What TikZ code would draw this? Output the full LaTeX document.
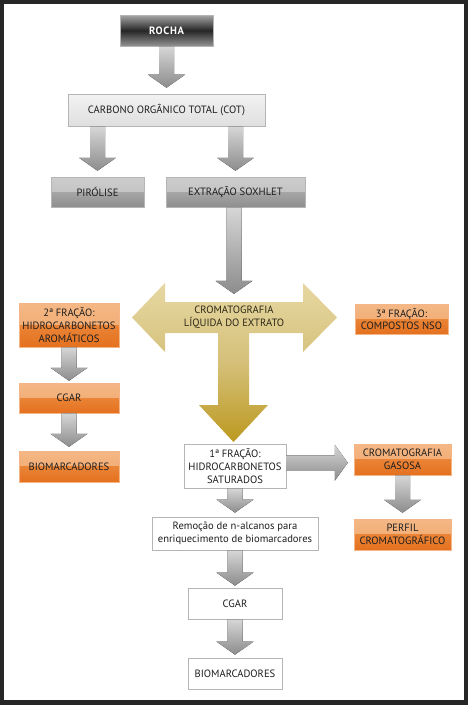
\documentclass[tikz,border=0pt]{standalone}
\usepackage{fontspec}
\setmainfont{PT Sans}
\usetikzlibrary{calc}
\definecolor{framec}{HTML}{262626}
\definecolor{txtc}{HTML}{1E1E1E}
\definecolor{orT1}{HTML}{F4B886}
\definecolor{orT2}{HTML}{F1A468}
\definecolor{orB1}{HTML}{EA8436}
\definecolor{orB2}{HTML}{E4711F}
\definecolor{gyT1}{HTML}{CDCDCD}
\definecolor{gyT2}{HTML}{BBBBBB}
\definecolor{gyB1}{HTML}{A6A6A6}
\definecolor{gyB2}{HTML}{8E8E8E}
\definecolor{arT}{HTML}{D6D6D6}
\definecolor{arB}{HTML}{8C8C8C}
\definecolor{goT}{HTML}{E6D8A2}
\definecolor{goM}{HTML}{D5C07A}
\definecolor{goB}{HTML}{BC991F}
\definecolor{goTxt}{HTML}{2E2818}
\definecolor{bordc}{HTML}{B5B5B5}
\newcommand{\vblk}[3]{%
  \fill[blkshade] let \p1=(#2.north |- #1.south), \p2=($(#2.north)+(0,-#3)$) in
  (\x1-7.5pt,\y1) -- (\x1-7.5pt,\y2+13pt) -- (\x1-18.5pt,\y2+13pt) -- (\x2,\y2)
  -- (\x1+18.5pt,\y2+13pt) -- (\x1+7.5pt,\y2+13pt) -- (\x1+7.5pt,\y1) -- cycle;}
\newcommand{\hblk}[3]{%
  \fill[blkshade] let \p0=($(#1.east)!0.5!(#1.east |- #2.west)$),
    \p1=(#1.east |- \p0), \p2=($(#2.west |- \p0)+(-#3,0)$) in
  (\x1,\y1+7.5pt) -- (\x2-13pt,\y1+7.5pt) -- (\x2-13pt,\y1+18pt) -- (\x2,\y2)
  -- (\x2-13pt,\y1-18pt) -- (\x2-13pt,\y1-7.5pt) -- (\x1,\y1-7.5pt) -- cycle;}
\begin{document}
\begin{tikzpicture}[x=1pt,y=-1pt,
  every node/.style={font=\fontsize{10.6}{12.7}\selectfont, text=txtc, inner sep=0pt, align=center},
  blkshade/.style={top color=arT, bottom color=arB},
  rochabox/.style={draw=bordc, line width=0.6pt, top color=gray!70, bottom color=gray!85, middle color=framec, text=white, font=\fontsize{10.6}{12.7}\selectfont\bfseries\addfontfeatures{LetterSpace=6}},
  lightbox/.style={draw=bordc, line width=0.6pt, top color=gray!10, bottom color=gray!25},
  graybox/.style={draw=bordc, line width=0.5pt, fill=gyT2,
    path picture={
      \shade[top color=gyT1, bottom color=gyT2] (path picture bounding box.north west) rectangle (path picture bounding box.east);
      \shade[top color=gyB1, bottom color=gyB2] (path picture bounding box.west) rectangle (path picture bounding box.south east);}},
  orbox/.style={draw=orT2!80!white, line width=0.5pt, fill=orB1,
    path picture={
      \shade[top color=orT1, bottom color=orT2] (path picture bounding box.north west) rectangle (path picture bounding box.east);
      \shade[top color=orB1, bottom color=orB2] (path picture bounding box.west) rectangle (path picture bounding box.south east);}},
  whbox/.style={draw=bordc, line width=0.8pt, fill=white},
]
\useasboundingbox (0,0) rectangle (468,705);
\fill[framec] (0,0) rectangle (468,705);
\fill[white] (4,4) rectangle (464,700);

% nodes
\node[rochabox, minimum width=93pt, minimum height=31pt] (rocha) at (166.5,30.5) {ROCHA};
\node[lightbox, minimum width=197pt, minimum height=32pt] (cot) at (166.5,110) {CARBONO ORGÂNICO TOTAL (COT)};
\node[graybox, minimum width=93pt, minimum height=30pt] (pir) at (97.5,192) {PIRÓLISE};
\node[graybox, minimum width=139pt, minimum height=30pt] (sox) at (235.5,192) {EXTRAÇÃO SOXHLET};

% gold T arrow
\shade[top color=goT, bottom color=goB, middle color=goM]
  (132,317.5) -- (165,283) -- (165,302) -- (218,302) -- (303,302) -- (303,283) -- (337,317.5)
  -- (303,352) -- (303,333) -- (249,333) -- (249,405) -- (268,405) -- (233.5,442)
  -- (199,405) -- (218,405) -- (218,333) -- (165,333) -- (165,352) -- cycle;
\node[minimum width=138pt, minimum height=31pt, text=goTxt] (clq) at (234,317.5) {CROMATOGRAFIA\\LÍQUIDA DO EXTRATO};

\node[orbox, minimum width=100pt, minimum height=44pt] (f2) at (69,325) {2ª FRAÇÃO:\\HIDROCARBONETOS\\AROMÁTICOS};
\node[orbox, minimum width=93pt, minimum height=30pt] (f3) at (401.5,319) {3ª FRAÇÃO:\\COMPOSTOS NSO};
\node[orbox, minimum width=100pt, minimum height=30pt] (cgarL) at (69,398) {CGAR};
\node[orbox, minimum width=100pt, minimum height=31pt] (bioL) at (69,466.5) {BIOMARCADORES};

\node[whbox, minimum width=102pt, minimum height=44pt] (f1) at (235,466) {1ª FRAÇÃO:\\HIDROCARBONETOS\\SATURADOS};
\node[orbox, minimum width=97pt, minimum height=31pt] (cg) at (402.5,459.5) {CROMATOGRAFIA\\GASOSA};
\node[orbox, minimum width=97pt, minimum height=31pt] (perfil) at (402.5,534.5) {PERFIL\\CROMATOGRÁFICO};
\node[whbox, minimum width=166pt, minimum height=33pt] (rem) at (235,533.5) {Remoção de n-alcanos para\\enriquecimento de biomarcadores};
\node[whbox, minimum width=94pt, minimum height=31pt] (cgar2) at (235,603.5) {CGAR};
\node[whbox, minimum width=94pt, minimum height=31pt] (bio2) at (235,673.5) {BIOMARCADORES};

% block arrows
\vblk{rocha}{cot}{6}
\vblk{cot}{pir}{6}
\vblk{cot}{sox}{6}
\vblk{sox}{clq}{8}
\vblk{f2}{cgarL}{2}
\vblk{cgarL}{bioL}{4}
\vblk{cg}{perfil}{6}
\vblk{f1}{rem}{4}
\vblk{rem}{cgar2}{2}
\vblk{cgar2}{bio2}{3}
\hblk{f1}{cg}{6}
\end{tikzpicture}
\end{document}
